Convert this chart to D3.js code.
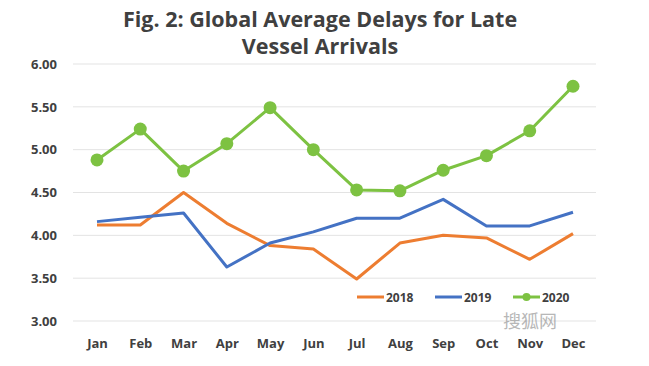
<!DOCTYPE html>
<html><head><meta charset="utf-8">
<script src="https://cdn.jsdelivr.net/npm/d3@7"></script>
<style>body{margin:0;background:#fff}</style>
</head><body><svg id="c" width="649" height="366"></svg>
<script>
const months = ["Jan","Feb","Mar","Apr","May","Jun","Jul","Aug","Sep","Oct","Nov","Dec"];
const s2018 = [4.12,4.12,4.50,4.14,3.88,3.84,3.49,3.91,4.00,3.97,3.72,4.02];
const s2019 = [4.16,4.21,4.26,3.63,3.91,4.04,4.20,4.20,4.42,4.11,4.11,4.27];
const s2020 = [4.88,5.24,4.75,5.07,5.49,5.00,4.53,4.52,4.76,4.93,5.22,5.74];
const yTicks = [3.00,3.50,4.00,4.50,5.00,5.50,6.00];
const titleLines = ["Fig. 2: Global Average Delays for Late","Vessel Arrivals"];
const seriesNames = ["2018","2019","2020"];
const colors = ["#ED7D31","#4472C4","#7DC242"];

const svg = d3.select("#c");
const x = d3.scalePoint().domain(months).range([97,573]);
const y = d3.scaleLinear().domain([3,6]).range([321,64]);
const font = "'Open Sans', sans-serif";

svg.append("g").selectAll("text").data(titleLines).join("text")
  .attr("x",320).attr("y",(d,i)=>27+i*27).attr("text-anchor","middle")
  .attr("font-family",font).attr("font-weight","bold").attr("font-size",21.5).attr("fill","#404040")
  .text(d=>d);

// grid
svg.append("g").selectAll("line").data(yTicks).join("line")
  .attr("x1",73).attr("x2",596).attr("y1",d=>y(d)).attr("y2",d=>y(d))
  .attr("stroke","#e3e3e3").attr("stroke-width",1);

const yAxis = svg.append("g").attr("transform","translate(57,0)")
  .call(d3.axisLeft(y).tickValues(yTicks).tickFormat(d3.format(".2f")).tickSize(0).tickPadding(0));
yAxis.select(".domain").remove();
yAxis.selectAll("text").attr("font-family",font).attr("font-weight","bold").attr("font-size",13).attr("fill","#404040");

const xAxis = svg.append("g").attr("transform","translate(0,339)")
  .call(d3.axisBottom(x).tickSize(0).tickPadding(0));
xAxis.select(".domain").remove();
xAxis.selectAll("text").attr("font-family",font).attr("font-weight","bold").attr("font-size",13).attr("fill","#404040");

// watermark
svg.append("text").attr("x",503).attr("y",328).attr("font-family","'Noto Sans CJK SC'")
  .attr("font-size",18).attr("fill","#9a9a9a").attr("opacity",0.7).text("搜狐网");

const line = d3.line().x((d,i)=>x(months[i])).y(d=>y(d));
const data = [s2018,s2019,s2020];
data.forEach((s,k)=>{
  svg.append("path").datum(s).attr("d",line).attr("fill","none")
    .attr("stroke",colors[k]).attr("stroke-width",3).attr("stroke-linejoin","round");
});
svg.append("g").selectAll("circle").data(s2020).join("circle")
  .attr("cx",(d,i)=>x(months[i])).attr("cy",d=>y(d)).attr("r",6.5).attr("fill",colors[2]);

// legend
const lx = [357,435,513];
const lg = svg.append("g").selectAll("g").data(seriesNames).join("g")
  .attr("transform",(d,i)=>`translate(${lx[i]},297)`);
lg.append("line").attr("x1",0).attr("x2",27).attr("y1",0).attr("y2",0)
  .attr("stroke",(d,i)=>colors[i]).attr("stroke-width",3);
lg.filter((d,i)=>i===2).append("circle").attr("cx",13.5).attr("cy",0).attr("r",4).attr("fill",colors[2]);
lg.append("text").attr("x",29).attr("y",4.5).attr("font-family",font).attr("font-weight","bold")
  .attr("font-size",12).attr("fill","#404040").text(d=>d);
</script></body></html>
